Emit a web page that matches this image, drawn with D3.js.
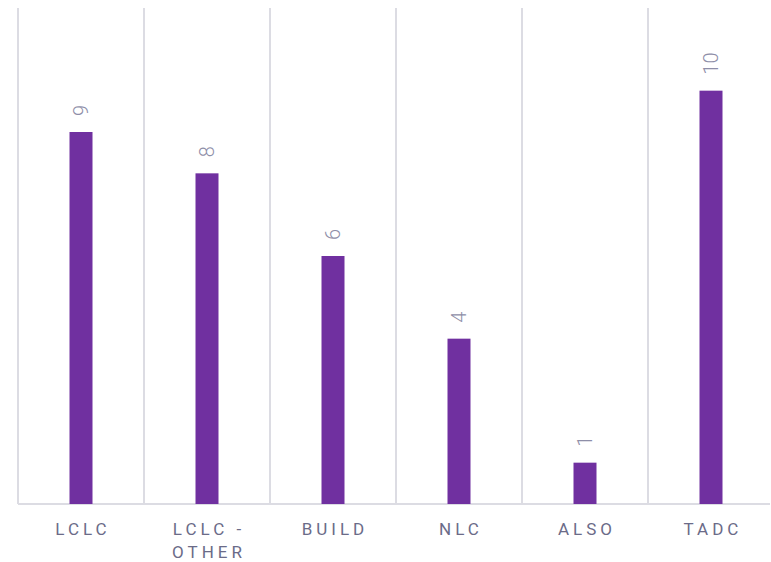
<!DOCTYPE html>
<html>
<head>
<meta charset="utf-8">
<script src="https://cdn.jsdelivr.net/npm/d3@7"></script>
<style>
  body { margin: 0; background: #fff; }
  .grid line { stroke: #dcdce3; stroke-width: 2px; }
  .cat { font-family: Roboto, sans-serif; font-size: 17px; fill: #6b6b88; letter-spacing: 4px; }
  .val { font-family: Roboto, sans-serif; font-size: 20px; font-weight: 300; fill: #8e8ea8; }
</style>
</head>
<body>
<svg width="771" height="562"></svg>
<script>
const categories = ["LCLC", "LCLC - OTHER", "BUILD", "NLC", "ALSO", "TADC"];
const labelLines = [["LCLC"], ["LCLC -", "OTHER"], ["BUILD"], ["NLC"], ["ALSO"], ["TADC"]];
const values = [9, 8, 6, 4, 1, 10];

const svg = d3.select("svg");
const plotLeft = 18, plotRight = 774, plotTop = 8, plotBottom = 504;

const x = d3.scaleBand().domain(categories).range([plotLeft, plotRight]);
const y = d3.scaleLinear().domain([0, 12]).range([plotBottom, plotTop]);

// vertical separators between categories
svg.append("g").attr("class", "grid")
  .selectAll("line")
  .data(categories)
  .join("line")
    .attr("x1", d => x(d)).attr("x2", d => x(d))
    .attr("y1", plotTop).attr("y2", plotBottom);

// baseline
svg.append("line")
  .attr("x1", plotLeft).attr("x2", 770)
  .attr("y1", plotBottom).attr("y2", plotBottom)
  .attr("stroke", "#dcdce3").attr("stroke-width", 2);

const barW = 23;
svg.append("g")
  .selectAll("rect")
  .data(values)
  .join("rect")
    .attr("x", (d, i) => x(categories[i]) + x.bandwidth() / 2 - barW / 2)
    .attr("y", d => y(d))
    .attr("width", barW)
    .attr("height", d => plotBottom - y(d))
    .attr("fill", "#7030a0");

// value labels, rotated
svg.append("g")
  .selectAll("text")
  .data(values)
  .join("text")
    .attr("class", "val")
    .attr("transform", (d, i) => `translate(${x(categories[i]) + x.bandwidth() / 2},${y(d) - 16}) rotate(-90)`)
    .attr("dy", "0.35em")
    .attr("text-anchor", "start")
    .text(d => d);

// category labels
const cat = svg.append("g")
  .selectAll("text")
  .data(categories)
  .join("text")
    .attr("class", "cat")
    .attr("text-anchor", "middle")
    .attr("x", d => x(d) + x.bandwidth() / 2 + 2)
    .attr("y", 535);
cat.selectAll("tspan")
  .data((d, i) => labelLines[i])
  .join("tspan")
    .attr("x", function() { return this.parentNode.getAttribute("x"); })
    .attr("dy", (d, i) => i === 0 ? 0 : 23)
    .text(d => d);
</script>
</body>
</html>
